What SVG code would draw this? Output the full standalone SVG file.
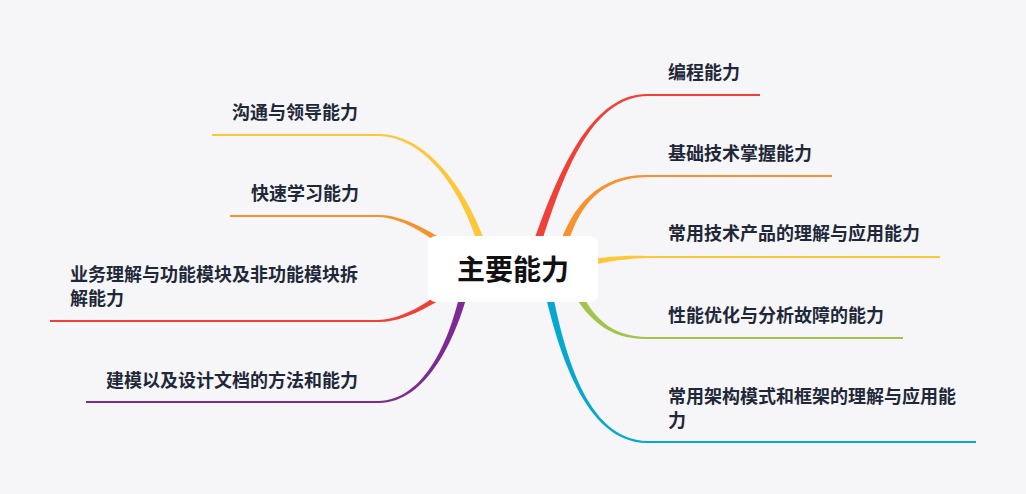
<svg xmlns="http://www.w3.org/2000/svg" width="1026" height="494" viewBox="0 0 1026 494">
<style>
.lbl{font-family:"Noto Sans CJK SC","Noto Sans",sans-serif;font-size:18px;font-weight:700;fill:#1e2838}
.main{font-family:"Noto Sans CJK SC","Noto Sans",sans-serif;font-size:28px;font-weight:700;fill:#111111}
.ul{stroke-width:2;fill:none;stroke-linecap:butt}
</style>
<rect x="0" y="0" width="1026" height="494" fill="#f6f6f9"/>
<g id="connectors">
  <path fill="#ef4138" d="M538.8,251.3 C562.8,175.9 590,96.8 648,96 L648,94 C590,93.2 557.2,174.1 531.2,248.7 Z"/>
  <line class="ul" stroke="#ef4138" x1="647" y1="95" x2="760" y2="95"/>
  <path fill="#f7932f" d="M565.8,251.1 C577.9,205.8 600,177.8 648,177 L648,175 C600,174.2 572.1,204.2 558.2,248.9 Z"/>
  <line class="ul" stroke="#f7932f" x1="647" y1="176" x2="832" y2="176"/>
  <path fill="#fdc73a" d="M560.8,271.9 C600.6,262.9 620,258.8 648,258 L648,256 C620,255.2 599.4,257.1 559.2,264.1 Z"/>
  <line class="ul" stroke="#fdc73a" x1="647" y1="257" x2="940" y2="257"/>
  <path fill="#a2c44b" d="M566.4,281.8 C587.3,321.3 610,339.8 648,339 L648,337 C610,336.2 592.7,318.7 573.6,278.2 Z"/>
  <line class="ul" stroke="#a2c44b" x1="647" y1="338" x2="903" y2="338"/>
  <path fill="#07a8cf" d="M541.1,275.8 C557.1,350.6 585,443.8 648,443 L648,441 C585,440.2 562.9,349.4 548.9,274.2 Z"/>
  <line class="ul" stroke="#07a8cf" x1="647" y1="442" x2="976" y2="442"/>
  <path fill="#fdc73a" d="M488.9,254 C472.9,199.2 430,133.2 378,134 L378,136 C430,136.8 467.1,200.8 481.1,256.1 Z"/>
  <line class="ul" stroke="#fdc73a" x1="212" y1="135" x2="379" y2="135"/>
  <path fill="#f7932f" d="M472.3,258.7 C446.7,242.5 410,214.2 378,215 L378,217 C410,217.8 443.3,247.5 467.7,265.3 Z"/>
  <line class="ul" stroke="#f7932f" x1="230" y1="216" x2="379" y2="216"/>
  <path fill="#ef4138" d="M467.7,272.7 C443.3,290.5 410,319.2 378,320 L378,322 C410,322.8 446.7,295.5 472.3,279.3 Z"/>
  <line class="ul" stroke="#ef4138" x1="50" y1="321" x2="379" y2="321"/>
  <path fill="#7d2a93" d="M464.1,274.2 C452.1,339.4 425,400.2 378,401 L378,403 C425,403.8 457.9,340.6 471.9,275.8 Z"/>
  <line class="ul" stroke="#7d2a93" x1="86" y1="402" x2="379" y2="402"/>
</g>
<g id="center">
  <rect x="428" y="236" width="170" height="66" rx="8" fill="#ffffff"/>
  <text class="main" x="513" y="279.5" text-anchor="middle">主要能力</text>
</g>
<g id="n-r1"><text class="lbl" x="668" y="79">编程能力</text></g>
<g id="n-r2"><text class="lbl" x="668" y="160">基础技术掌握能力</text></g>
<g id="n-r3"><text class="lbl" x="668" y="240">常用技术产品的理解与应用能力</text></g>
<g id="n-r4"><text class="lbl" x="668" y="322">性能优化与分析故障的能力</text></g>
<g id="n-r5"><text class="lbl" x="668" y="403">常用架构模式和框架的理解与应用能<tspan x="668" dy="24">力</tspan></text></g>
<g id="n-l1"><text class="lbl" x="232" y="119">沟通与领导能力</text></g>
<g id="n-l2"><text class="lbl" x="251" y="200">快速学习能力</text></g>
<g id="n-l3"><text class="lbl" x="70" y="281">业务理解与功能模块及非功能模块拆<tspan x="70" dy="24">解能力</tspan></text></g>
<g id="n-l4"><text class="lbl" x="106" y="387">建模以及设计文档的方法和能力</text></g>
</svg>
